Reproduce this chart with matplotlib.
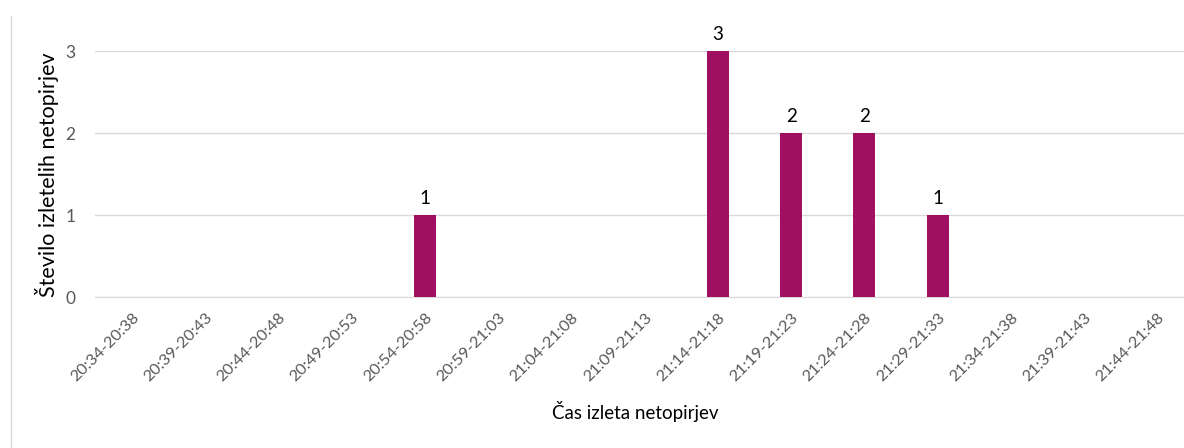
import matplotlib.pyplot as plt
from matplotlib.lines import Line2D

plt.rcParams['font.family'] = ['Lato', 'DejaVu Sans']

categories = ['20:34-20:38', '20:39-20:43', '20:44-20:48', '20:49-20:53', '20:54-20:58',
              '20:59-21:03', '21:04-21:08', '21:09-21:13', '21:14-21:18', '21:19-21:23',
              '21:24-21:28', '21:29-21:33', '21:34-21:38', '21:39-21:43', '21:44-21:48']
counts = [0, 0, 0, 0, 1, 0, 0, 0, 3, 2, 2, 1, 0, 0, 0]
y_ticks = [0, 1, 2, 3]

W, H = 1184, 448
fig = plt.figure(figsize=(W / 100, H / 100), dpi=100)
# plot area runs a bit past the right edge of the image, as in the reference
left, right, bottom, top = 95.1, 1194, 297, 51
ax = fig.add_axes([left / W, 1 - bottom / H, (right - left) / W, (bottom - top) / H])

x = list(range(len(categories)))
bars = ax.bar(x, counts, width=0.3, color='#A01060', zorder=3)
for b, v in zip(bars, counts):
    if v > 0:
        ax.text(b.get_x() + b.get_width() / 2, v + 0.1, str(v), ha='center', va='bottom',
                fontsize=13.5, color='black')

ax.set_xlim(-0.5, len(categories) - 0.5)
ax.set_ylim(0, 3)
ax.set_yticks(y_ticks)
ax.set_xticks(x)
ax.set_xticklabels(categories, rotation=45, ha='right', rotation_mode='anchor')
ax.tick_params(axis='both', length=0, colors='#595959')
ax.tick_params(axis='x', pad=10, labelsize=11.8)
ax.tick_params(axis='y', pad=14, labelsize=12.5)
ax.grid(axis='y', color='#d9d9d9', linewidth=1, zorder=0)
for s in ['top', 'right', 'left']:
    ax.spines[s].set_visible(False)
ax.spines['bottom'].set_color('#d9d9d9')

fig.text(47 / W, 1 - 175 / H, 'Število izletelih netopirjev', rotation=90, ha='center',
         va='center', fontsize=15.5, color='black')
fig.text(635 / W, 1 - 411 / H, 'Čas izleta netopirjev', ha='center', va='center',
         fontsize=13.5, color='black')

fig.add_artist(Line2D([10.5 / W, 10.5 / W], [0, 1 - 16 / H], color='#d9d9d9', linewidth=1))

fig.savefig('out.png', dpi=100)
